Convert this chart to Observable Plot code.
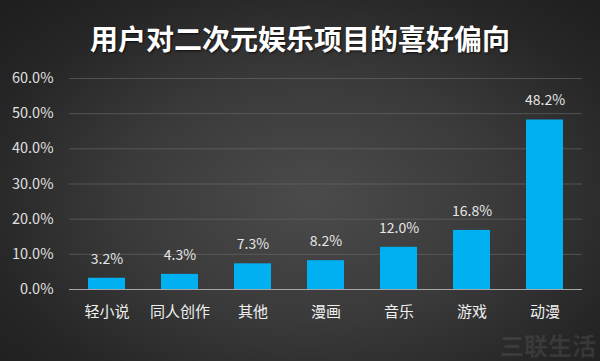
<!DOCTYPE html>
<html><head><meta charset="utf-8">
<script src="https://cdn.jsdelivr.net/npm/d3@7"></script>
<script src="https://cdn.jsdelivr.net/npm/@observablehq/plot@0.6"></script>
<style>
html,body{margin:0;padding:0;}
#wrap{position:relative;width:600px;height:361px;overflow:hidden;
 background:radial-gradient(ellipse 70% 75% at 52% 55%, #4b4b4b 0%, #3a3a3a 45%, #262626 80%, #1f1f1f 100%);
 font-family:"Noto Sans CJK SC","Noto Sans",sans-serif;}
#title{position:absolute;left:0;top:18px;width:600px;text-align:center;color:#fff;font-size:28px;font-weight:bold;line-height:40px;
 text-shadow:1px 1px 2px rgba(0,0,0,0.7);}
#chart{position:absolute;left:0;top:0;}
#wm{position:absolute;right:4px;bottom:2px;color:rgba(190,190,190,0.13);font-size:24px;font-weight:bold;line-height:28px;}
</style></head>
<body>
<div id="wrap">
<div id="chart"></div>
<div id="title">用户对二次元娱乐项目的喜好偏向</div>
<div id="wm">三联生活</div>
</div>
<script>
const categories = ["轻小说","同人创作","其他","漫画","音乐","游戏","动漫"];
const values = [3.2, 4.3, 7.3, 8.2, 12.0, 16.8, 48.2];
const yTicks = [0, 10, 20, 30, 40, 50, 60];

const data = categories.map((c,i)=>({cat:c, v:values[i]}));

const chart = Plot.plot({
  width: 600, height: 361,
  marginTop: 78, marginBottom: 72, marginLeft: 69, marginRight: 18,
  style: {background: "transparent", color: "#d9d9d9", fontFamily: '"Noto Sans CJK SC","Noto Sans",sans-serif'},
  x: {domain: categories, paddingInner: 0.5, paddingOuter: 0.25, label: null},
  y: {domain: [0, 60], ticks: yTicks, label: null},
  marks: [
    Plot.gridY(yTicks.filter(t => t > 0), {stroke: "#6a6a6a", strokeOpacity: 0.6}),
    Plot.barY(data, {x: "cat", y: "v", fill: "#00b0f0"}),
    Plot.ruleY([0], {stroke: "#a6a6a6", strokeWidth: 1}),
    Plot.text(data, {x: "cat", y: "v", text: d => d.v.toFixed(1) + "%", dy: -19, fill: "#e6e6e6", fontSize: 14}),
    Plot.axisX({tickSize: 0, tickPadding: 17, fontSize: 15, fill: "#f0f0f0", label: null}),
    Plot.axisY({ticks: yTicks, tickSize: 0, tickPadding: 16, fontSize: 14.5, fill: "#e0e0e0", label: null, tickFormat: d => d.toFixed(1) + "%"})
  ]
});
document.getElementById("chart").appendChild(chart);
</script>
</body></html>
